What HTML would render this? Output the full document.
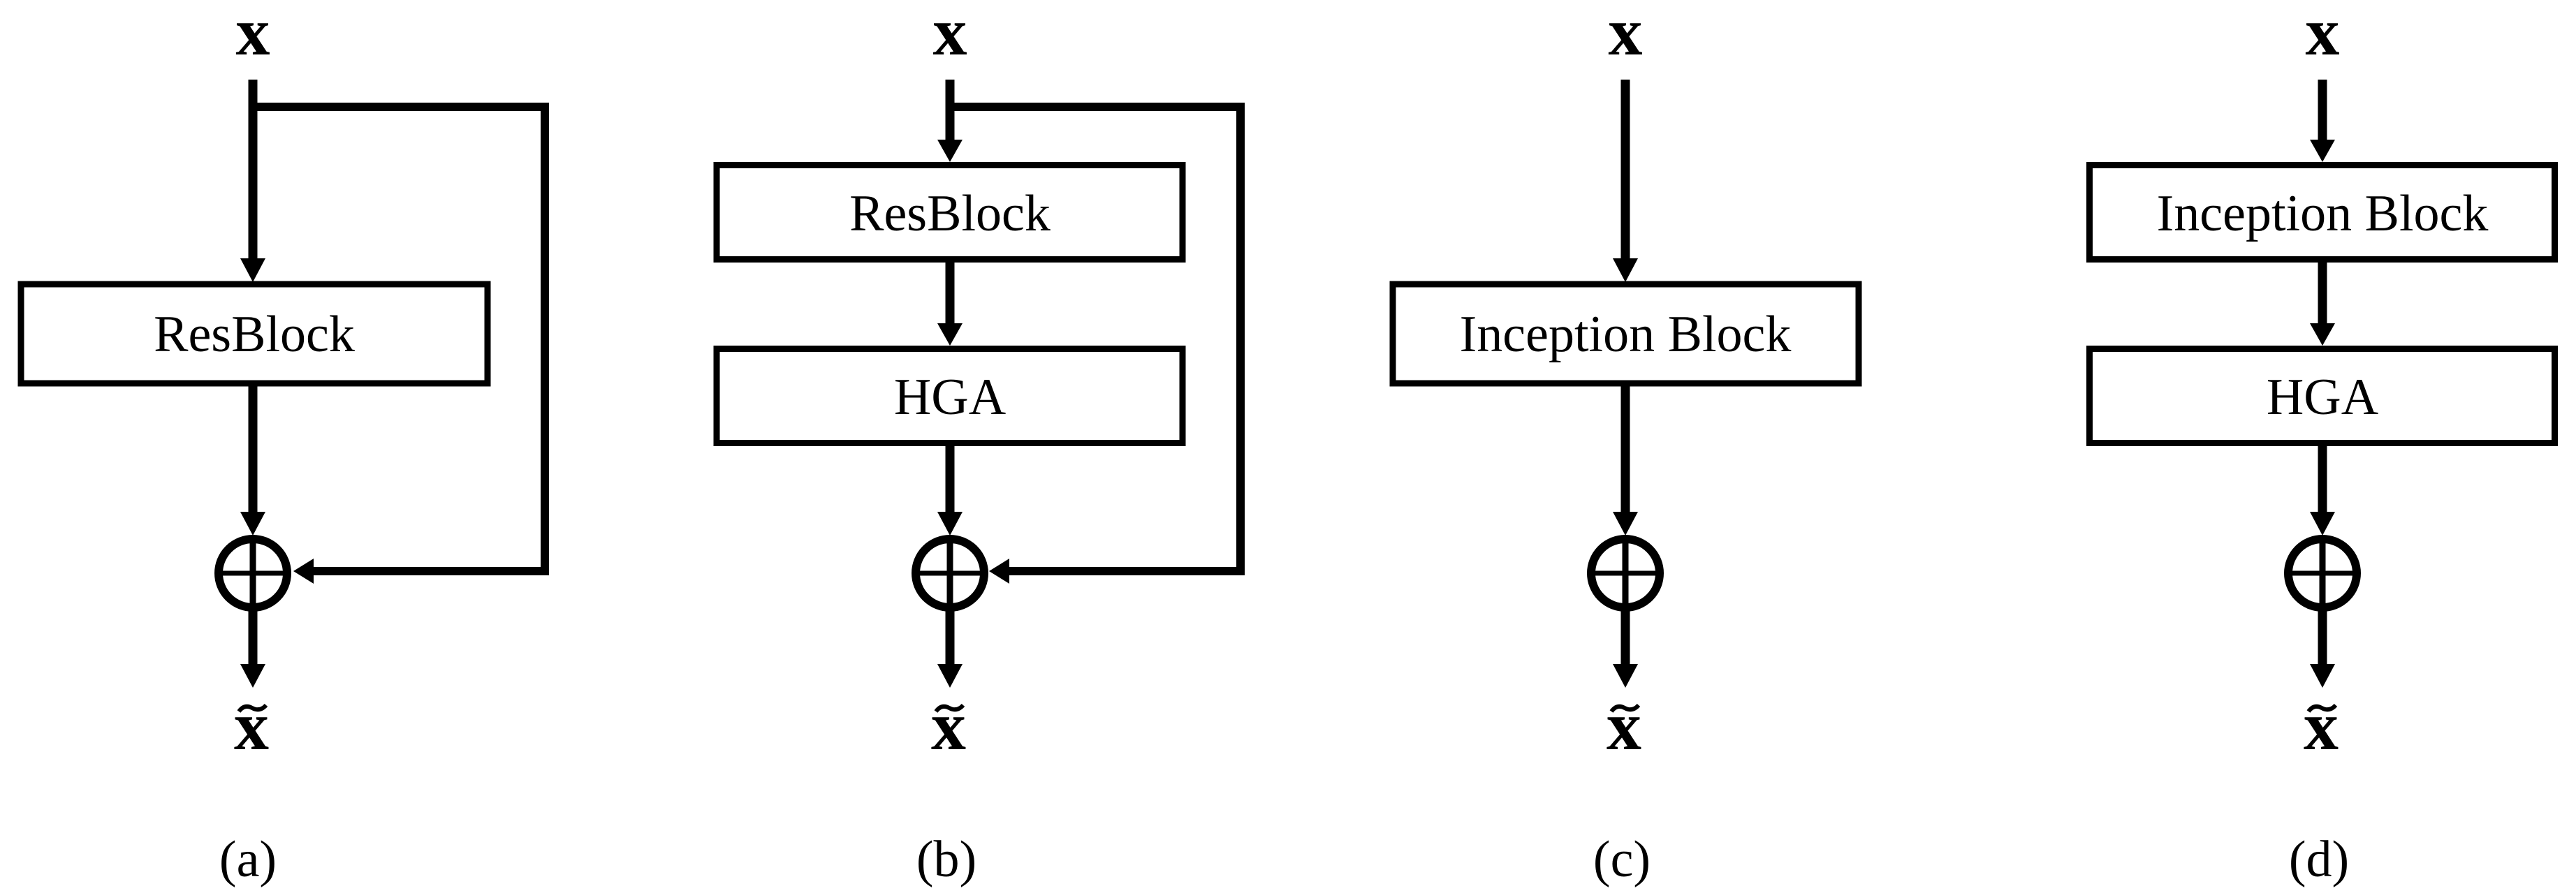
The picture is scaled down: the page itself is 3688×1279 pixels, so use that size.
<!DOCTYPE html>
<html><head><meta charset="utf-8"><style>
html,body{margin:0;padding:0;background:#fff;}
svg{display:block;}
text{font-family:"Liberation Serif",serif;fill:#000;}
</style></head><body>
<svg width="3688" height="1279" viewBox="0 0 3688 1279" xmlns="http://www.w3.org/2000/svg">
<g stroke="#000" fill="none">
<!-- panel a -->
<line x1="362" y1="114" x2="362" y2="372" stroke-width="13"/>
<polyline points="362,153 780,153 780,818 440,818" stroke-width="12"/>
<rect x="30" y="407" width="668" height="142" stroke-width="9"/>
<line x1="362" y1="553" x2="362" y2="738" stroke-width="13"/>
<circle cx="362" cy="821" r="49" stroke-width="12"/>
<line x1="313" y1="821" x2="411" y2="821" stroke-width="7"/>
<line x1="362" y1="767" x2="362" y2="875" stroke-width="9"/>
<line x1="362" y1="875" x2="362" y2="955" stroke-width="13"/>
<!-- panel b -->
<line x1="1360" y1="114" x2="1360" y2="205" stroke-width="13"/>
<polyline points="1360,153 1776,153 1776,818 1440,818" stroke-width="12"/>
<rect x="1026" y="236.5" width="667" height="135" stroke-width="9"/>
<line x1="1360" y1="376" x2="1360" y2="468" stroke-width="13"/>
<rect x="1026" y="499.5" width="667" height="135" stroke-width="9"/>
<line x1="1360" y1="639" x2="1360" y2="738" stroke-width="13"/>
<circle cx="1360" cy="821" r="49" stroke-width="12"/>
<line x1="1311" y1="821" x2="1409" y2="821" stroke-width="7"/>
<line x1="1360" y1="767" x2="1360" y2="875" stroke-width="9"/>
<line x1="1360" y1="875" x2="1360" y2="955" stroke-width="13"/>
<!-- panel c -->
<line x1="2327" y1="114" x2="2327" y2="372" stroke-width="13"/>
<rect x="1994" y="407" width="667" height="142" stroke-width="9"/>
<line x1="2327" y1="553" x2="2327" y2="738" stroke-width="13"/>
<circle cx="2327" cy="821" r="49" stroke-width="12"/>
<line x1="2278" y1="821" x2="2376" y2="821" stroke-width="7"/>
<line x1="2327" y1="767" x2="2327" y2="875" stroke-width="9"/>
<line x1="2327" y1="875" x2="2327" y2="955" stroke-width="13"/>
<!-- panel d -->
<line x1="3325" y1="114" x2="3325" y2="205" stroke-width="13"/>
<rect x="2991.5" y="236.5" width="666" height="135" stroke-width="9"/>
<line x1="3325" y1="376" x2="3325" y2="468" stroke-width="13"/>
<rect x="2991.5" y="499.5" width="666" height="135" stroke-width="9"/>
<line x1="3325" y1="639" x2="3325" y2="738" stroke-width="13"/>
<circle cx="3325" cy="821" r="49" stroke-width="12"/>
<line x1="3276" y1="821" x2="3374" y2="821" stroke-width="7"/>
<line x1="3325" y1="767" x2="3325" y2="875" stroke-width="9"/>
<line x1="3325" y1="875" x2="3325" y2="955" stroke-width="13"/>
<!-- tildes -->
<path d="M342,1019 Q350,1008 361,1014 Q372,1020 381,1010" stroke-width="6"/>
<path d="M1340,1019 Q1348,1008 1359,1014 Q1370,1020 1379,1010" stroke-width="6"/>
<path d="M2307,1019 Q2315,1008 2326,1014 Q2337,1020 2346,1010" stroke-width="6"/>
<path d="M3305,1019 Q3313,1008 3324,1014 Q3335,1020 3344,1010" stroke-width="6"/>
</g>
<g fill="#000">
<polygon points="362,404 344,370 380,370"/>
<polygon points="362,767 344,733 380,733"/>
<polygon points="362,985 344,951 380,951"/>
<polygon points="420,818 449,800 449,836"/>
<polygon points="1360,232 1342,200 1378,200"/>
<polygon points="1360,495 1342,463 1378,463"/>
<polygon points="1360,767 1342,733 1378,733"/>
<polygon points="1360,985 1342,951 1378,951"/>
<polygon points="1416,818 1445,800 1445,836"/>
<polygon points="2327,404 2309,370 2345,370"/>
<polygon points="2327,767 2309,733 2345,733"/>
<polygon points="2327,985 2309,951 2345,951"/>
<polygon points="3325,232 3307,200 3343,200"/>
<polygon points="3325,495 3307,463 3343,463"/>
<polygon points="3325,767 3307,733 3343,733"/>
<polygon points="3325,985 3307,951 3343,951"/>
</g>
<g text-anchor="middle">
<text x="362" y="78" font-size="98" font-weight="bold">x</text>
<text x="1360" y="78" font-size="98" font-weight="bold">x</text>
<text x="2327" y="78" font-size="98" font-weight="bold">x</text>
<text x="3325" y="78" font-size="98" font-weight="bold">x</text>
<text x="360" y="1073" font-size="100" font-weight="bold">x</text>
<text x="1358" y="1073" font-size="100" font-weight="bold">x</text>
<text x="2325" y="1073" font-size="100" font-weight="bold">x</text>
<text x="3323" y="1073" font-size="100" font-weight="bold">x</text>
<text x="364" y="503" font-size="74">ResBlock</text>
<text x="1360" y="330" font-size="74">ResBlock</text>
<text x="1360" y="593" font-size="74">HGA</text>
<text x="2327" y="503" font-size="74">Inception Block</text>
<text x="3325" y="330" font-size="74">Inception Block</text>
<text x="3325" y="593" font-size="74">HGA</text>
<text x="355" y="1255" font-size="74">(a)</text>
<text x="1355" y="1255" font-size="74">(b)</text>
<text x="2322" y="1255" font-size="74">(c)</text>
<text x="3320" y="1255" font-size="74">(d)</text>
</g>
</svg>
</body></html>
